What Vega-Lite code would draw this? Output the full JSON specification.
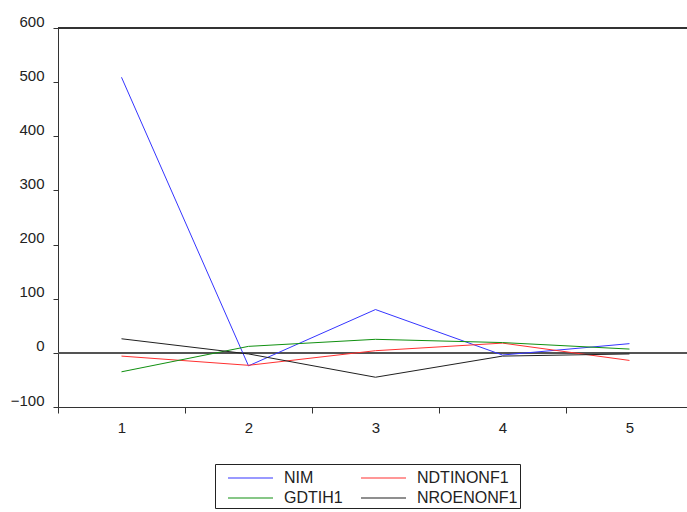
{
  "$schema": "https://vega.github.io/schema/vega-lite/v6.json",
  "width": 629,
  "height": 379,
  "autosize": {"type": "none"},
  "padding": {"left": 58, "top": 28, "right": 0, "bottom": 105},
  "background": "white",
  "config": {
    "view": {"stroke": null},
    "font": "Liberation Sans",
    "axis": {"labelFont": "Liberation Sans", "labelFontSize": 15, "labelColor": "#222", "domainColor": "#333", "tickColor": "#333", "grid": false, "title": null}
  },
  "data": {
    "values": [
      {"x": 1, "series": "NIM", "value": 509},
      {"x": 2, "series": "NIM", "value": -24},
      {"x": 3, "series": "NIM", "value": 80},
      {"x": 4, "series": "NIM", "value": -4},
      {"x": 5, "series": "NIM", "value": 17},
      {"x": 1, "series": "NDTINONF1", "value": -6},
      {"x": 2, "series": "NDTINONF1", "value": -23},
      {"x": 3, "series": "NDTINONF1", "value": 4},
      {"x": 4, "series": "NDTINONF1", "value": 18},
      {"x": 5, "series": "NDTINONF1", "value": -14},
      {"x": 1, "series": "GDTIH1", "value": -35},
      {"x": 2, "series": "GDTIH1", "value": 12},
      {"x": 3, "series": "GDTIH1", "value": 25},
      {"x": 4, "series": "GDTIH1", "value": 19},
      {"x": 5, "series": "GDTIH1", "value": 7},
      {"x": 1, "series": "NROENONF1", "value": 26},
      {"x": 2, "series": "NROENONF1", "value": -2},
      {"x": 3, "series": "NROENONF1", "value": -45},
      {"x": 4, "series": "NROENONF1", "value": -6},
      {"x": 5, "series": "NROENONF1", "value": -2}
    ]
  },
  "layer": [
    {
      "mark": {"type": "rule", "color": "#555", "strokeWidth": 1.2},
      "encoding": {"y": {"datum": 0, "type": "quantitative", "scale": {"domain": [-100, 600], "nice": false}}}
    },
    {
      "mark": {"type": "rule", "color": "#333", "strokeWidth": 1.2},
      "encoding": {"y": {"datum": 600, "type": "quantitative"}}
    },
    {
      "mark": {"type": "line", "strokeWidth": 1},
      "encoding": {
        "x": {
          "field": "x",
          "type": "quantitative",
          "scale": {"domain": [0.5, 5.453], "nice": false, "zero": false},
          "axis": {
            "values": [0.5, 1, 1.5, 2, 2.5, 3, 3.5, 4, 4.5, 5],
            "labelExpr": "datum.value % 1 === 0 ? format(datum.value, 'd') : ''",
            "tickOpacity": {"condition": {"test": "datum.value % 1 !== 0", "value": 1}, "value": 0},
            "tickSize": 6,
            "labelPadding": 7
          }
        },
        "y": {
          "field": "value",
          "type": "quantitative",
          "scale": {"domain": [-100, 600], "nice": false},
          "axis": {"values": [-100, 0, 100, 200, 300, 400, 500, 600], "tickSize": 5, "labelPadding": 9, "labelBaseline": "alphabetic", "labelOffset": -2}
        },
        "color": {
          "field": "series",
          "type": "nominal",
          "scale": {"domain": ["NIM", "NDTINONF1", "GDTIH1", "NROENONF1"], "range": ["#3535ff", "#ff3030", "#109010", "#202020"]},
          "legend": {
            "title": null,
            "orient": "none",
            "legendX": 157,
            "legendY": 436,
            "columns": 2,
            "direction": "horizontal",
            "symbolType": "M-0.09,0H4",
            "symbolSize": 484,
            "symbolStrokeWidth": 1.2,
            "symbolFillColor": "transparent",
            "labelFont": "Liberation Sans",
            "labelFontSize": 16,
            "labelColor": "#222",
            "labelOffset": 43,
            "labelExpr": "(datum.label == 'NDTINONF1' || datum.label == 'NROENONF1') ? datum.label + '      ' : datum.label",
            "columnPadding": 7,
            "rowPadding": 0,
            "padding": 2,
            "strokeColor": "#222",
            "fillColor": "white"
          }
        }
      }
    }
  ]
}
